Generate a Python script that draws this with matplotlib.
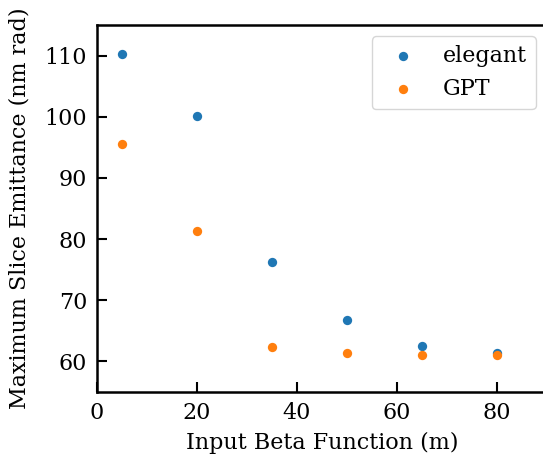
import numpy as np
import matplotlib
matplotlib.use('Agg')
import matplotlib.pyplot as plt

plt.rcParams['font.family'] = 'DejaVu Serif'

# input beta function (m)
beta = [5, 20, 35, 50, 65, 80]
# max slice emittance (nm rad)
elegant = [110.2, 100.2, 76.3, 66.8, 62.6, 61.4]
gpt = [95.5, 81.3, 62.3, 61.3, 61.0, 61.0]

fig = plt.figure(figsize=(5.43, 4.54), dpi=100)
ax = fig.add_axes([0.1786, 0.1366, 0.8287, 0.808])

ax.scatter(beta, elegant, s=45, color='#1f77b4', label='elegant', zorder=3, linewidths=0)
ax.scatter(beta, gpt, s=45, color='#ff7f0e', label='GPT', zorder=3, linewidths=0)

ax.set_xlim(0, 90)
ax.set_ylim(55, 115)
ax.set_xticks([0, 20, 40, 60, 80])
ax.set_yticks([60, 70, 80, 90, 100, 110])
ax.tick_params(direction='in', length=7, width=1.5, labelsize=16, pad=7)
for s in ax.spines.values():
    s.set_linewidth(1.8)

ax.set_xlabel('Input Beta Function (m)', fontsize=16, labelpad=6)
ax.set_ylabel('Maximum Slice Emittance (nm rad)', fontsize=16, labelpad=10)
ax.legend(loc='upper right', fontsize=16)

fig.savefig('out.png', dpi=100)
